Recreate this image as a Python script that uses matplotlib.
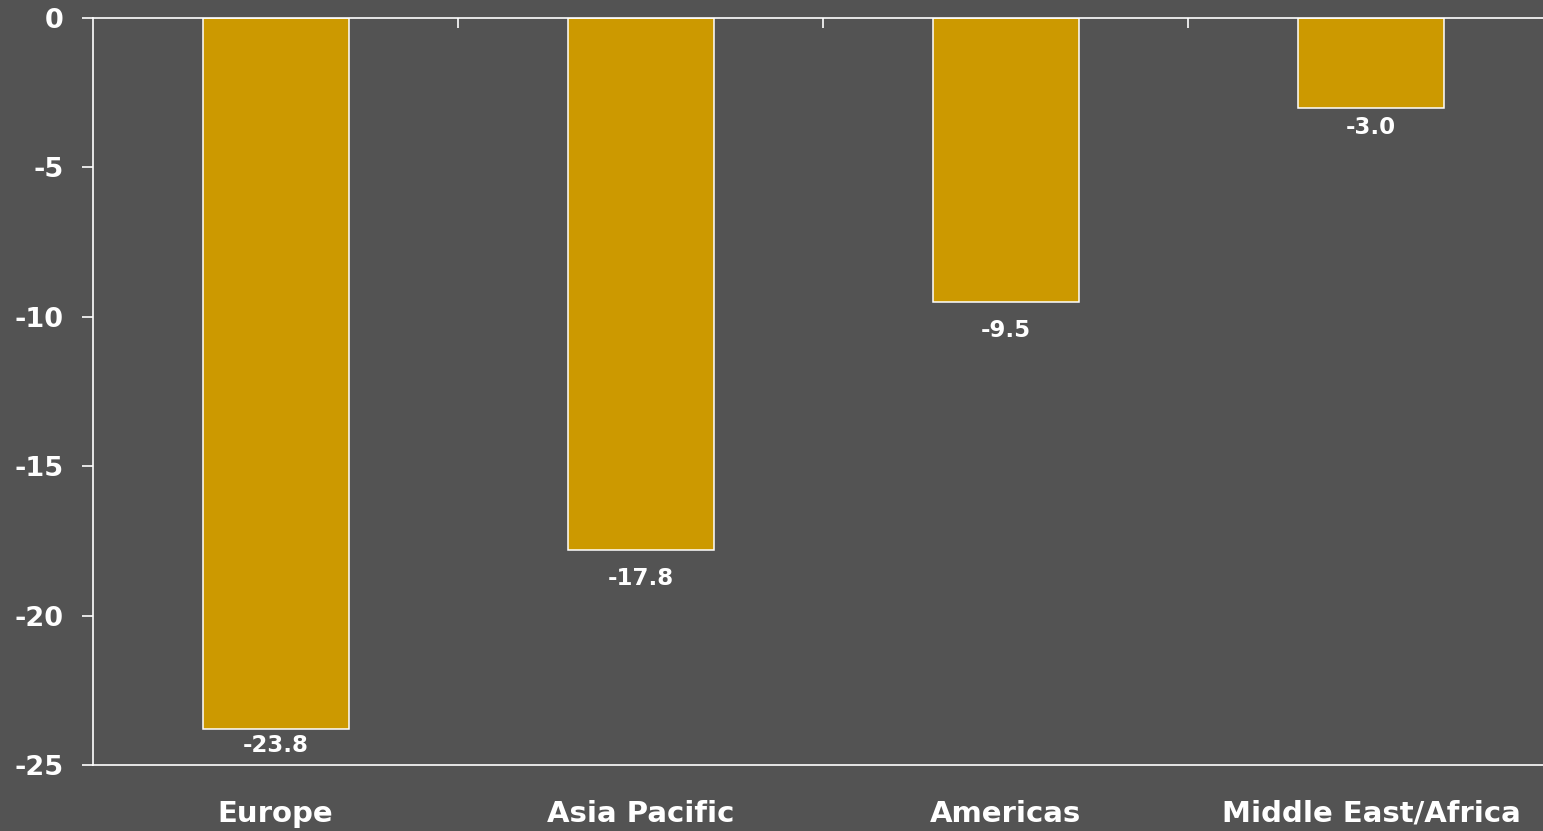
import matplotlib
matplotlib.use("Agg")
import matplotlib.pyplot as plt
from matplotlib.ticker import FixedLocator

categories = ["Europe", "Asia Pacific", "Americas", "Middle East/Africa"]
values = [-23.8, -17.8, -9.5, -3.0]
yticks = [0, -5, -10, -15, -20, -25]

# label offsets below bar end (points), layout only
label_offsets = [-3.3, -12.5, -12.5, -6.2]

BG = "#535353"
BAR = "#CC9900"

plt.rcParams["font.family"] = ["DejaVu Sans"]
plt.rcParams["font.weight"] = "bold"

W, H = 1543, 831
fig = plt.figure(figsize=(W / 100, H / 100), dpi=100, facecolor=BG)
left, right, top, bottom = 93, 1553.5, 18, 765
ax = fig.add_axes([left / W, (H - bottom) / H, (right - left) / W, (bottom - top) / H])
ax.set_facecolor(BG)

x = list(range(len(categories)))
ax.bar(x, values, width=0.4, color=BAR, edgecolor="white", linewidth=1.1, zorder=2)

for xi, v, off in zip(x, values, label_offsets):
    ax.annotate(f"{v:.1f}", (xi, v), xytext=(0, off), textcoords="offset points",
                ha="center", va="top", color="white", fontsize=16.5, fontweight="bold")

ax.set_xlim(-0.5, len(categories) - 0.5)
ax.set_ylim(-25, 0)
ax.set_yticks(yticks)
ax.set_yticklabels([str(t) for t in yticks])
ax.set_xticks(x)
ax.set_xticklabels(categories)

for s in ["top", "bottom", "left"]:
    ax.spines[s].set_color("white")
    ax.spines[s].set_linewidth(1.2)
ax.spines["right"].set_visible(False)

ax.tick_params(axis="y", colors="white", labelcolor="white", length=8, width=1.2,
               pad=13, labelsize=19.5, direction="out")
ax.tick_params(axis="x", which="major", length=0, pad=25, labelsize=21,
               labelcolor="white", bottom=True, top=False)
ax.xaxis.set_minor_locator(FixedLocator([0.5, 1.5, 2.5]))
ax.tick_params(axis="x", which="minor", top=True, bottom=False, direction="in",
               length=7, width=1.2, color="white")
for lbl in ax.get_xticklabels() + ax.get_yticklabels():
    lbl.set_fontweight("bold")

fig.savefig("out.png", dpi=100, facecolor=BG)
